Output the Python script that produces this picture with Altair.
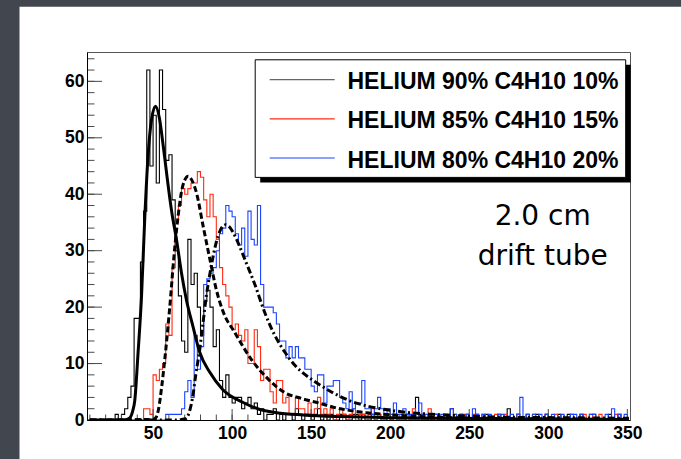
import altair as alt
import pandas as pd

# ---------------- data ----------------
bin_lo = list(range(10, 350, 2))  # 2-unit bins, lower edges

black_counts = [
    0, 0, 0, 0, 0, 0, 0, 0, 1, 0,
    1, 2, 4, 6, 18, 18, 28, 37, 62, 45,
    54, 42, 62, 55, 46, 47, 39, 30, 22, 14,
    12, 32, 24, 26, 20, 15, 21, 23, 20, 13,
    16, 7, 4, 8, 4, 3, 4, 4, 2, 3,
    4, 2, 3, 1, 2, 0, 1, 1, 2, 0,
    1, 0, 1, 1, 0, 2, 1, 0, 1, 1,
    0, 1, 2, 0, 1, 0, 1, 0, 0, 1,
    1, 0, 0, 1, 1, 0, 1, 0, 0, 1,
    0, 1, 0, 0, 1, 0, 1, 0, 0, 0,
    1, 0, 0, 4, 1, 0, 0, 1, 0, 1,
    0, 0, 1, 0, 2, 0, 0, 1, 0, 1,
    0, 0, 1, 0, 0, 1, 0, 0, 0, 1,
    0, 0, 2, 0, 0, 1, 0, 0, 1, 0,
    0, 1, 0, 0, 1, 0, 0, 0, 1, 0,
    0, 1, 0, 0, 0, 1, 0, 0, 0, 1,
    0, 0, 0, 0, 1, 0, 0, 1, 0, 0,
]

red_counts = [
    0, 0, 0, 0, 0, 0, 0, 0, 0, 0,
    0, 0, 0, 0, 0, 0, 0, 2, 2, 1,
    8, 7, 9, 10, 17, 15, 27, 35, 38, 41,
    40, 41, 42, 42, 44, 43, 39, 36, 40, 36,
    32, 27, 24, 22, 20, 16, 17, 15, 14, 16,
    10, 10, 16, 13, 7, 9, 9, 5, 3, 7,
    7, 3, 4, 1, 1, 4, 2, 2, 1, 3,
    1, 2, 4, 1, 2, 1, 2, 0, 1, 2,
    1, 0, 1, 2, 0, 1, 1, 0, 1, 2,
    0, 1, 0, 1, 1, 0, 1, 0, 1, 0,
    1, 0, 2, 0, 0, 1, 0, 2, 0, 1,
    0, 0, 1, 0, 0, 1, 0, 0, 1, 0,
    0, 1, 0, 0, 1, 0, 0, 0, 1, 0,
    0, 1, 0, 0, 0, 1, 0, 0, 0, 0,
    1, 0, 0, 0, 1, 0, 0, 1, 0, 0,
    0, 0, 1, 0, 0, 0, 1, 0, 1, 0,
    0, 1, 0, 0, 0, 0, 1, 0, 0, 0,
]

blue_counts = [
    0, 0, 0, 0, 0, 0, 0, 0, 0, 0,
    0, 0, 0, 0, 0, 0, 0, 0, 0, 0,
    0, 0, 0, 0, 1, 1, 1, 1, 1, 2,
    5, 7, 4, 15, 9, 13, 24, 25, 26, 27,
    30, 33, 34, 38, 37, 36, 33, 31, 34, 29,
    37, 32, 31, 38, 24, 20, 20, 20, 19, 17,
    14, 14, 11, 13, 11, 13, 11, 11, 9, 9,
    6, 5, 8, 8, 3, 6, 6, 7, 7, 4,
    3, 2, 5, 2, 3, 3, 7, 2, 2, 1,
    2, 4, 2, 1, 2, 1, 3, 1, 1, 2,
    1, 1, 1, 0, 3, 1, 1, 0, 1, 1,
    0, 1, 0, 1, 2, 1, 0, 1, 0, 1,
    0, 2, 1, 0, 1, 0, 1, 0, 0, 1,
    1, 0, 0, 1, 0, 1, 4, 0, 1, 0,
    1, 0, 1, 0, 1, 0, 1, 0, 0, 1,
    0, 0, 1, 1, 0, 1, 0, 0, 1, 1,
    0, 0, 0, 1, 0, 2, 0, 1, 0, 1,
]

# fit curves
fit_black_x = [10, 32, 35, 37, 38.4, 40.5, 42.7, 44.7, 46.8, 49, 51.5, 54, 56, 58, 60, 62,
               64.8, 68, 71, 75.3, 79.5, 86, 94, 107, 117, 128, 145, 170, 200, 250, 300, 351]
fit_black_y = [0, 0, 0.3, 1.5, 3.4, 11.9, 22, 35.5, 46.7, 53.2, 55.6, 53.5, 49.5, 45, 40.5, 36.5,
               32, 26, 21.4, 16.5, 12, 8.4, 5.4, 3.1, 1.9, 1.3, 0.9, 0.6, 0.4, 0.25, 0.15, 0.1]

fit_red_x = [10, 50, 52, 53.5, 55.5, 57.5, 60.4, 63.7, 66, 68, 70, 72.2, 74.5, 77.5, 81.7, 86,
             90, 94.3, 101.7, 112, 123, 133, 144, 155, 165, 185, 206, 227, 260, 300, 351]
fit_red_y = [0, 0.1, 0.5, 2, 6, 11, 19.5, 30.5, 36.5, 40.5, 42.5, 43.2, 42.5, 40.2, 34.3, 28.4,
             23.1, 19.2, 15.5, 10.8, 7.2, 4.9, 3.8, 3, 2.2, 1.3, 0.8, 0.5, 0.3, 0.2, 0.1]

fit_blue_x = [10, 64, 68, 71, 73, 75.3, 77, 79.5, 81.5, 83.7, 86, 88, 90, 92.2, 94, 96, 98,
              100.5, 104.7, 108, 114.4, 120.7, 127, 133.4, 140, 145, 153.4, 164, 174.5, 185,
              196, 206, 227, 248, 270, 312, 351]
fit_blue_y = [0, 0, 0.1, 0.3, 1.5, 4.5, 8, 12.5, 17, 22, 26, 29, 31.5, 33.4, 34.3, 34.6, 34.3,
              33.3, 30.8, 28.5, 24, 19, 15, 12, 9.6, 8.3, 6.6, 4.8, 3.4, 2.5,
              1.9, 1.5, 1, 0.7, 0.5, 0.4, 0.3]

series_names = ["HELIUM 90% C4H10 10%", "HELIUM 85% C4H10 15%", "HELIUM 80% C4H10 20%"]
series_colors = ["#000000", "#ff2a12", "#1a44ff"]
legend_line_colors = ["#666666", "#ff2a12", "#1a44ff"]

x_ticks_major = [50, 100, 150, 200, 250, 300, 350]
x_ticks_minor = list(range(10, 351, 10))
y_ticks_major = [0, 10, 20, 30, 40, 50, 60]
y_ticks_minor = list(range(0, 65, 2))

note_lines = ["2.0 cm", "drift tube"]

# ---------------- layout ----------------
W, H = 543, 368
PAD_L, PAD_T = 87, 52
PAD_R, PAD_B = 681 - PAD_L - W, 459 - PAD_T - H
FONT = "Liberation Sans"

xscale = alt.Scale(domain=[8.2, 351.7], nice=False, zero=False)
yscale = alt.Scale(domain=[0, 65.2], nice=False, zero=False)

xaxis = alt.Axis(values=x_ticks_major, ticks=False, grid=False, domainColor="black", domainWidth=1,
                 labelFont=FONT, labelFontSize=17.5, labelFontWeight="bold", labelColor="black",
                 labelPadding=4, labelFlush=False, labelOverlap=False, title=None, zindex=1)
yaxis = alt.Axis(values=y_ticks_major, ticks=False, grid=False, domainColor="black", domainWidth=1,
                 labelFont=FONT, labelFontSize=17.5, labelFontWeight="bold", labelColor="black",
                 labelPadding=3, labelFlush=False, labelOverlap=False, title=None, zindex=1)


def X(field):
    return alt.X(field, scale=xscale, axis=xaxis)


def Y(field):
    return alt.Y(field, scale=yscale, axis=yaxis)


one = pd.DataFrame({"a": [0]})
layers = []

# dark textured border of the slide (left and top strips)
dark = "#42464e"
layers.append(alt.Chart(one).mark_rect(color=dark).encode(
    x=alt.value(-PAD_L), x2=alt.value(-67.5), y=alt.value(-PAD_T), y2=alt.value(H + PAD_B)))
layers.append(alt.Chart(one).mark_rect(color=dark).encode(
    x=alt.value(-PAD_L), x2=alt.value(W + PAD_R), y=alt.value(-PAD_T), y2=alt.value(-45.3)))


def hist_df(counts):
    xs = bin_lo + [bin_lo[-1] + 2]
    ys = counts + [counts[-1]]
    return pd.DataFrame({"x": xs, "y": ys})


for counts, col in zip([black_counts, red_counts, blue_counts], series_colors):
    layers.append(alt.Chart(hist_df(counts)).mark_line(
        interpolate="step-after", color=col, strokeWidth=1.1, clip=True).encode(x=X("x:Q"), y=Y("y:Q")))

# ticks pointing inward
tick_color = "#4a4a4a"
for vals, ln in [(y_ticks_minor, 7.5), (y_ticks_major, 15)]:
    layers.append(alt.Chart(pd.DataFrame({"y": vals})).mark_rule(color=tick_color, strokeWidth=1).encode(
        y=Y("y:Q"), x=alt.value(0), x2=alt.value(ln)))
for vals, ln in [(x_ticks_minor, 5.5), (x_ticks_major, 11)]:
    layers.append(alt.Chart(pd.DataFrame({"x": vals})).mark_rule(color=tick_color, strokeWidth=1).encode(
        x=X("x:Q"), y=alt.value(H), y2=alt.value(H - ln)))

# fit curves
for fx, fy, dash in [(fit_black_x, fit_black_y, None),
                     (fit_red_x, fit_red_y, [6, 3]),
                     (fit_blue_x, fit_blue_y, [7, 3, 2, 3])]:
    kw = dict(interpolate="monotone", color="black", strokeWidth=3, clip=True)
    if dash:
        kw["strokeDash"] = dash
    layers.append(alt.Chart(pd.DataFrame({"x": fx, "y": fy})).mark_line(**kw).encode(
        x=X("x:Q"), y=Y("y:Q")))

# legend box with shadow
LX0, LX1, LY0, LY1 = 168.2, 538.7, 7.8, 125.4
layers.append(alt.Chart(one).mark_rect(color="black").encode(
    x=alt.value(LX0 + 5), x2=alt.value(LX1 + 5), y=alt.value(LY0 + 5), y2=alt.value(LY1 + 5)))
layers.append(alt.Chart(one).mark_rect(fill="white", stroke="black", strokeWidth=1).encode(
    x=alt.value(LX0), x2=alt.value(LX1), y=alt.value(LY0), y2=alt.value(LY1)))
row_y = [27.7, 66.9, 106.0]
for name, col, ry in zip(series_names, legend_line_colors, row_y):
    layers.append(alt.Chart(one).mark_rule(color=col, strokeWidth=1.2).encode(
        x=alt.value(182.7), x2=alt.value(247.7), y=alt.value(ry)))
    layers.append(alt.Chart(pd.DataFrame({"t": [name]})).mark_text(
        align="left", baseline="alphabetic", font=FONT, fontSize=23, fontWeight="bold",
        color="black").encode(text="t:N", x=alt.value(260.5), y=alt.value(ry + 9.5)))

# annotation
for line, by in zip(note_lines, [172.7, 212.7]):
    layers.append(alt.Chart(pd.DataFrame({"t": [line]})).mark_text(
        align="center", baseline="alphabetic", font="DejaVu Sans", fontSize=28,
        color="black").encode(text="t:N", x=alt.value(455.7), y=alt.value(by)))

chart = alt.layer(*layers).properties(
    width=W, height=H,
    autosize=alt.AutoSizeParams(type="none"),
    padding={"left": PAD_L, "top": PAD_T, "right": PAD_R, "bottom": PAD_B},
).configure(background="white").configure_view(stroke="#555555", strokeWidth=1)

chart.save("out.html", embed_options={"renderer": "svg", "actions": False})
